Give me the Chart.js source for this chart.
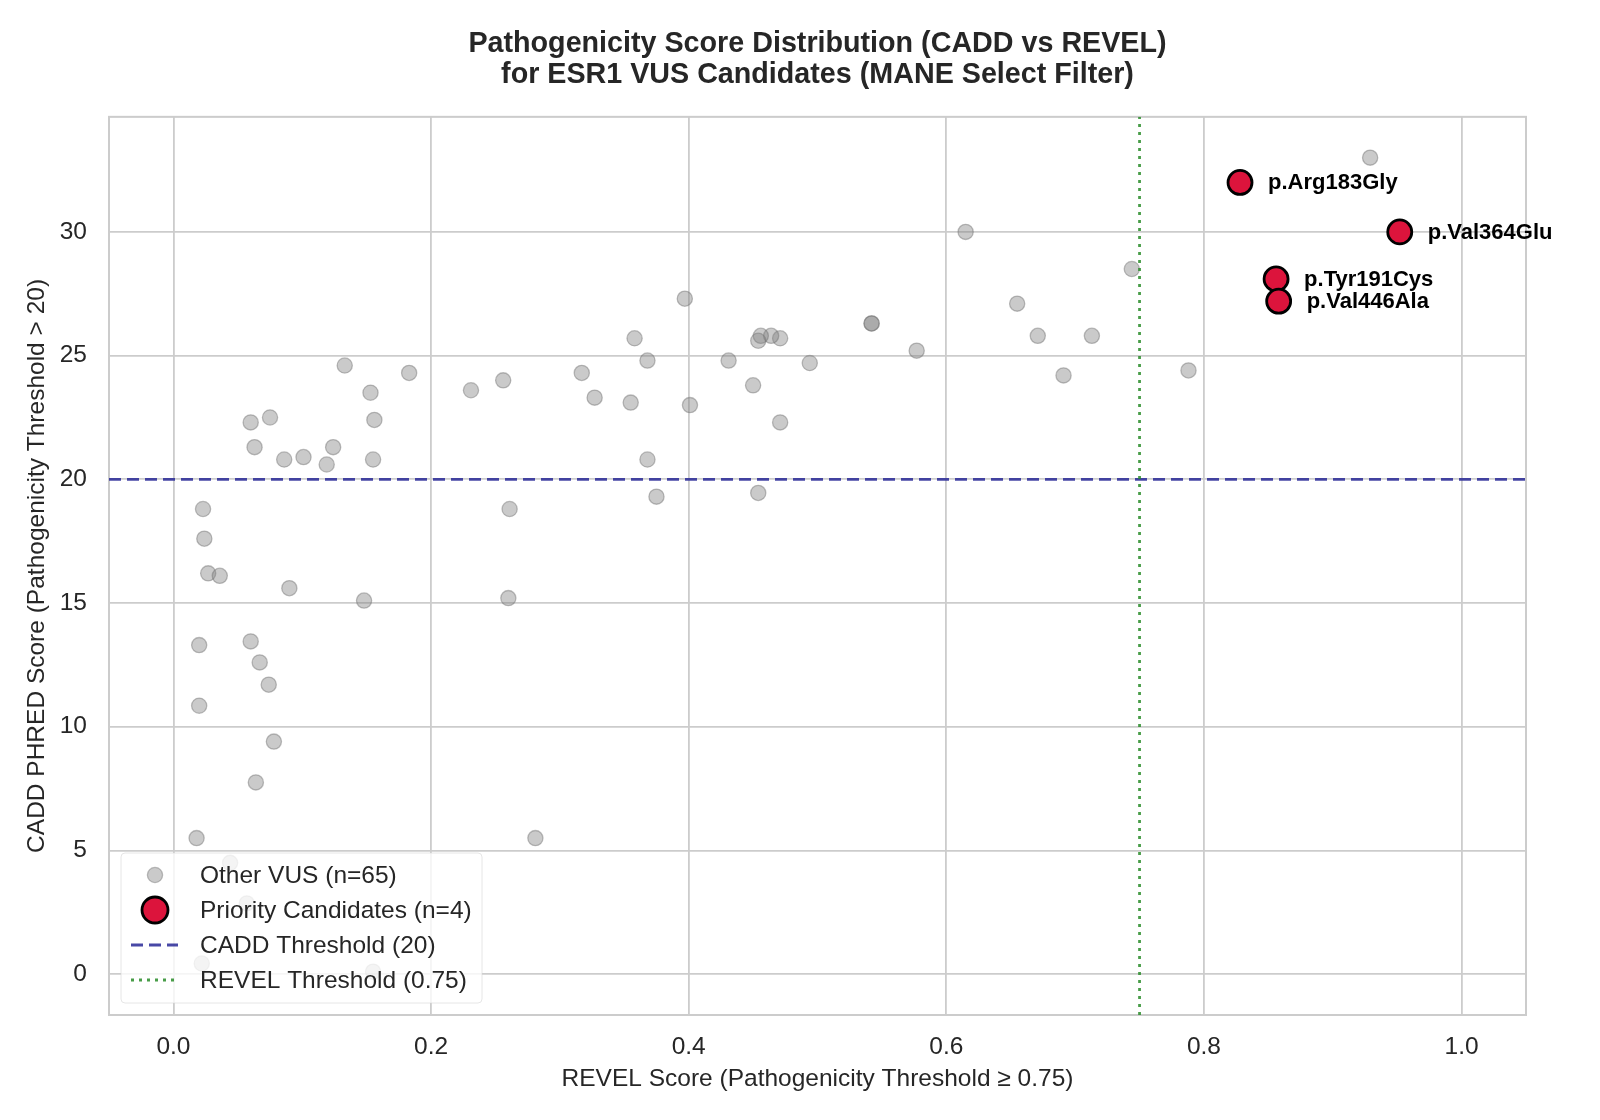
<!DOCTYPE html>
<html>
<head>
<meta charset="utf-8">
<script src="https://cdn.jsdelivr.net/npm/chart.js@4.4.1/dist/chart.umd.min.js"></script>
<style>
  body { margin: 0; background: #fff; }
  canvas { display: block; }
</style>
</head>
<body>
<canvas id="chart" width="1600" height="1120"></canvas>
<script>
// REVEL / CADD values
const otherRevel = [0.929, 0.744, 0.655, 0.671, 0.713, 0.691, 0.788, 0.615, 0.577, 0.542,
  0.542, 0.494, 0.471, 0.471, 0.464, 0.456, 0.454, 0.450, 0.431, 0.454,
  0.375, 0.368, 0.401, 0.397, 0.368, 0.358, 0.355, 0.327, 0.317, 0.256,
  0.231, 0.183, 0.133, 0.153, 0.156, 0.155, 0.124, 0.119, 0.101, 0.086,
  0.075, 0.060, 0.063, 0.261, 0.260, 0.281, 0.148, 0.090, 0.023, 0.024,
  0.027, 0.036, 0.020, 0.060, 0.067, 0.074, 0.020, 0.078, 0.064, 0.018,
  0.044, 0.057, 0.022, 0.155];
const otherCadd = [33.0, 28.5, 27.1, 25.8, 25.8, 24.2, 24.4, 30.0, 25.2, 26.3,
  26.3, 24.7, 22.3, 25.7, 25.8, 25.8, 25.6, 23.8, 24.8, 19.45,
  19.3, 20.8, 23.0, 27.3, 24.8, 25.7, 23.1, 23.3, 24.3, 24.0,
  23.6, 24.3, 24.6, 23.5, 22.4, 20.8, 21.3, 20.6, 20.9, 20.8,
  22.5, 22.3, 21.3, 18.8, 15.2, 5.5, 15.1, 15.6, 18.8, 17.6,
  16.2, 16.1, 13.3, 13.45, 12.6, 11.7, 10.85, 9.4, 7.75, 5.5,
  4.5, 2.86, 0.43, 0.1];

const priorityNames = ['p.Arg183Gly', 'p.Val364Glu', 'p.Tyr191Cys', 'p.Val446Ala'];
const priorityRevel = [0.828, 0.952, 0.856, 0.858];
const priorityCadd = [32.0, 30.0, 28.1, 27.2];

const caddThreshold = 20;
const revelThreshold = 0.75;

const xTicks = [0.0, 0.2, 0.4, 0.6, 0.8, 1.0];
const yTicks = [0, 5, 10, 15, 20, 25, 30];
const xMin = -0.05, xMax = 1.05;
const yMin = -1.65, yMax = 34.65;

const FONT = '"Liberation Sans", Arial, Helvetica, sans-serif';
const TEXT = '#262626';
const GRID = '#cccccc';

const toPoints = (xs, ys) => xs.map((x, i) => ({ x: x, y: ys[i] }));

// centre the title over the axes, not the whole canvas
const titleOverAxes = {
  id: 'titleOverAxes',
  afterLayout(chart) {
    if (chart.titleBlock) {
      chart.titleBlock.left = chart.chartArea.left;
      chart.titleBlock.right = chart.chartArea.right;
    }
  }
};

// frame round the plotting area (all four spines)
const frame = {
  id: 'frame',
  beforeDatasetsDraw(chart) {
    const { ctx, chartArea: a } = chart;
    ctx.save();
    ctx.strokeStyle = GRID;
    ctx.lineWidth = 2;
    ctx.strokeRect(a.left, a.top, a.right - a.left, a.bottom - a.top);
    ctx.restore();
  }
};

// bold labels next to the priority candidates
const pointLabels = {
  id: 'pointLabels',
  afterDatasetsDraw(chart) {
    const { ctx } = chart;
    const meta = chart.getDatasetMeta(1);
    ctx.save();
    ctx.font = 'bold 22px ' + FONT;
    ctx.fillStyle = '#000';
    ctx.textBaseline = 'middle';
    ctx.textAlign = 'left';
    meta.data.forEach((el, i) => {
      ctx.fillText(priorityNames[i], el.x + 28, el.y + 1);
    });
    ctx.restore();
  }
};

// legend in the lower left corner of the axes
const innerLegend = {
  id: 'innerLegend',
  afterDraw(chart) {
    const { ctx, chartArea: a } = chart;
    const ds = chart.data.datasets;
    const left = a.left + 12, bottom = a.bottom - 12;
    const w = 361, h = 150;
    const top = bottom - h;
    ctx.save();
    ctx.fillStyle = 'rgba(255,255,255,0.8)';
    ctx.strokeStyle = 'rgba(214,214,214,0.6)';
    ctx.lineWidth = 1;
    ctx.beginPath();
    ctx.roundRect(left, top, w, h, 4);
    ctx.fill();
    ctx.stroke();

    ctx.font = '24.5px ' + FONT;
    ctx.textBaseline = 'middle';
    ctx.textAlign = 'left';
    ds.forEach((d, i) => {
      const cy = top + 22 + i * 35;
      const cx = left + 34;
      if (d.showLine) {
        ctx.strokeStyle = d.borderColor;
        ctx.lineWidth = d.borderWidth;
        ctx.setLineDash(d.borderDash);
        ctx.beginPath();
        ctx.moveTo(left + 10, cy);
        ctx.lineTo(left + 57, cy);
        ctx.stroke();
        ctx.setLineDash([]);
      } else {
        const r = i === 0 ? d.pointRadius : d.pointRadius + 1;
        ctx.fillStyle = d.backgroundColor;
        ctx.strokeStyle = d.borderColor;
        ctx.lineWidth = d.borderWidth;
        ctx.beginPath();
        ctx.arc(cx, cy, r, 0, Math.PI * 2);
        ctx.fill();
        ctx.stroke();
      }
      ctx.fillStyle = TEXT;
      ctx.fillText(d.label, left + 79, cy + 1);
    });
    ctx.restore();
  }
};

const ctx = document.getElementById('chart').getContext('2d');
const chart = new Chart(ctx, {
  type: 'scatter',
  data: {
    datasets: [{
      label: 'Other VUS (n=65)',
      data: toPoints(otherRevel, otherCadd),
      backgroundColor: 'rgba(128,128,128,0.42)',
      borderColor: 'rgba(112,112,112,0.45)',
      borderWidth: 1.3,
      pointRadius: 7.6,
      order: 4
    }, {
      label: 'Priority Candidates (n=4)',
      data: toPoints(priorityRevel, priorityCadd),
      backgroundColor: '#dc143c',
      borderColor: '#000000',
      borderWidth: 2.8,
      pointRadius: 12,
      order: 1
    }, {
      label: 'CADD Threshold (20)',
      data: [{ x: xMin, y: caddThreshold }, { x: xMax, y: caddThreshold }],
      showLine: true,
      borderColor: 'rgba(40,40,150,0.85)',
      borderWidth: 2.8,
      borderDash: [12, 6],
      pointRadius: 0,
      order: 3
    }, {
      label: 'REVEL Threshold (0.75)',
      data: [{ x: revelThreshold, y: yMin }, { x: revelThreshold, y: yMax }],
      showLine: true,
      borderColor: 'rgba(40,140,40,0.85)',
      borderWidth: 2.8,
      borderDash: [3, 5],
      pointRadius: 0,
      order: 2
    }]
  },
  options: {
    responsive: false,
    devicePixelRatio: 1,
    animation: false,
    layout: { padding: { left: 0, right: 74, top: 0, bottom: 0 } },
    plugins: {
      legend: { display: false },
      tooltip: { enabled: false },
      title: {
        display: true,
        text: ['Pathogenicity Score Distribution (CADD vs REVEL)', 'for ESR1 VUS Candidates (MANE Select Filter)'],
        color: TEXT,
        font: { family: FONT, size: 28.7, weight: 'bold', lineHeight: 1.06 },
        padding: { top: 29, bottom: 27 }
      }
    },
    scales: {
      x: {
        type: 'linear',
        min: xMin,
        max: xMax,
        afterBuildTicks: s => { s.ticks = xTicks.map(v => ({ value: v })); },
        afterFit: s => { s.height = 105; },
        grid: { color: GRID, lineWidth: 1.8, drawTicks: false },
        border: { display: false },
        ticks: {
          color: TEXT,
          padding: 18,
          font: { family: FONT, size: 24.5 },
          callback: v => v.toFixed(1)
        },
        title: {
          display: true,
          text: 'REVEL Score (Pathogenicity Threshold ≥ 0.75)',
          color: TEXT,
          font: { family: FONT, size: 24.5 },
          padding: { top: 0, bottom: 26 }
        }
      },
      y: {
        type: 'linear',
        min: yMin,
        max: yMax,
        afterBuildTicks: s => { s.ticks = yTicks.map(v => ({ value: v })); },
        afterFit: s => { s.width = 109; },
        grid: { color: GRID, lineWidth: 1.8, drawTicks: false },
        border: { display: false },
        ticks: {
          color: TEXT,
          padding: 22,
          font: { family: FONT, size: 24.5 },
          callback: v => String(v)
        },
        title: {
          display: true,
          text: 'CADD PHRED Score (Pathogenicity Threshold > 20)',
          color: TEXT,
          font: { family: FONT, size: 24.5 },
          padding: { top: 23, bottom: 0 }
        }
      }
    }
  },
  plugins: [titleOverAxes, frame, pointLabels, innerLegend]
});
</script>
</body>
</html>
